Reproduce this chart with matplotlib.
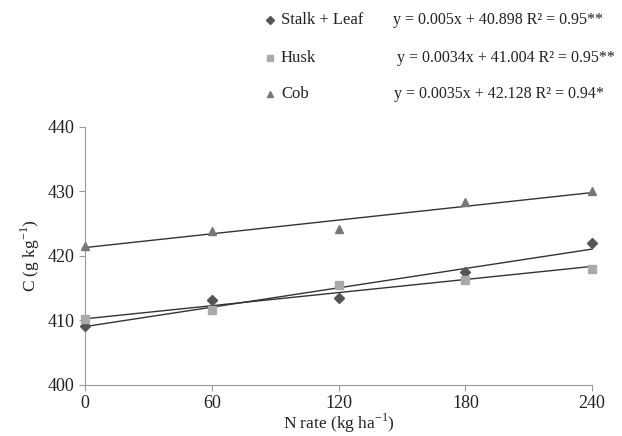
import numpy as np
import matplotlib
matplotlib.use("Agg")
import matplotlib.pyplot as plt

plt.rcParams['font.family'] = ['Liberation Serif', 'DejaVu Serif']

n_rate = [0, 60, 120, 180, 240]
stalk_leaf = [409.2, 413.1, 413.5, 417.5, 422.0]
husk = [410.2, 411.6, 415.5, 416.3, 418.0]
cob = [421.6, 423.8, 424.1, 428.3, 430.0]

series_names = ["Stalk + Leaf", "Husk", "Cob"]
equations = ["y = 0.005x + 40.898 R² = 0.95**",
             "y = 0.0034x + 41.004 R² = 0.95**",
             "y = 0.0035x + 42.128 R² = 0.94*"]
x_ticks = [0, 60, 120, 180, 240]
y_ticks = [400, 410, 420, 430, 440]

fig = plt.figure(figsize=(6.22, 4.36), dpi=100)
ax = fig.add_axes([0.137, 0.117, 0.815, 0.592])

styles = [("D", "#555555", 5), ("s", "#aaaaaa", 6), ("^", "#777777", 6)]
data = [stalk_leaf, husk, cob]
x = np.array(n_rate)
for vals, (m, c, s) in zip(data, styles):
    ax.plot(x, vals, linestyle="none", marker=m, color=c, markersize=s, zorder=3, clip_on=False)
    k, b = np.polyfit(x, vals, 1)
    ax.plot([x[0], x[-1]], [k * x[0] + b, k * x[-1] + b], color="#333333", lw=1.0, zorder=2,
            clip_on=False)

ax.set_xlim(0, 240)
ax.set_ylim(400, 440)
ax.set_xticks(x_ticks)
ax.set_yticks(y_ticks)
ax.tick_params(labelsize=13, labelcolor="#222222", length=4, color="#999999")
for side in ["top", "right"]:
    ax.spines[side].set_visible(False)
for side in ["left", "bottom"]:
    ax.spines[side].set_color("#999999")
ax.set_xlabel("N rate (kg ha$^{\\mathregular{-1}}$)", fontsize=12.5, color="#222222")
ax.set_ylabel("C (g kg$^{\\mathregular{-1}}$)", fontsize=12.5, color="#222222")
ax.xaxis.set_label_coords(0.5, -0.105)
ax.yaxis.set_label_coords(-0.085, 0.5)

# legend at top
leg_y = [1 - 20 / 436, 1 - 58 / 436, 1 - 94 / 436]
eq_x = [393 / 622, 397 / 622, 394 / 622]
for i, ((m, c, s), name) in enumerate(zip(styles, series_names)):
    fig.lines.append(matplotlib.lines.Line2D([270 / 622], [leg_y[i]], marker=m, color=c,
                                             markersize=s - 1, transform=fig.transFigure,
                                             linestyle="none"))
    fig.text(281 / 622, leg_y[i], name, fontsize=12, va="center", ha="left", color="#222222")
    fig.text(eq_x[i], leg_y[i], equations[i], fontsize=11.5, va="center", ha="left", color="#222222")

fig.savefig("out.png", dpi=100)
